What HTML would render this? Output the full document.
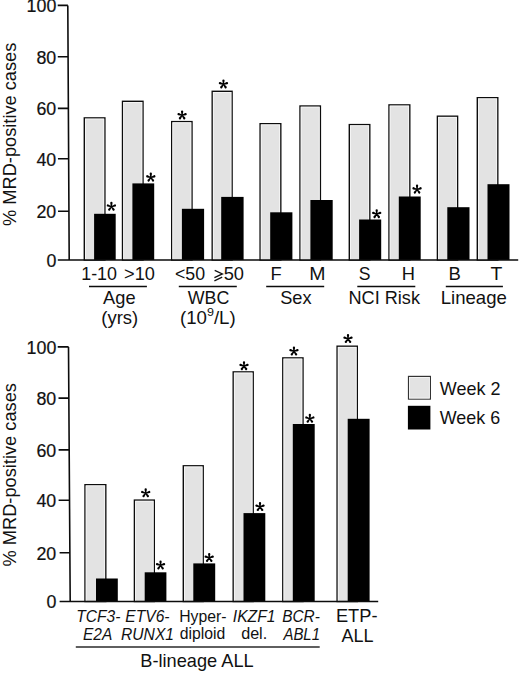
<!DOCTYPE html>
<html><head><meta charset="utf-8"><style>
html,body{margin:0;padding:0;background:#fff;}
svg{display:block;}

text{font-family:"Liberation Sans",sans-serif;fill:#111;}
.tk{font-size:18.4px;stroke:#111;stroke-width:0.2px;}
.yl{font-size:18.24px;}
.xl{font-size:17.5px;}
.sm{font-size:16.4px;}
.it{font-size:16.2px;font-style:italic;}
</style></head><body>
<svg width="520" height="673" viewBox="0 0 520 673">
<rect x="84.30" y="117.90" width="20.60" height="142.10" fill="#e3e3e3" stroke="#0c0c0c" stroke-width="1.4"/><rect x="85.45" y="119.05" width="18.30" height="140.50" fill="none" stroke="#f5f5f5" stroke-width="0.9"/>
<rect x="122.50" y="101.30" width="20.50" height="158.70" fill="#e3e3e3" stroke="#0c0c0c" stroke-width="1.4"/><rect x="123.65" y="102.45" width="18.20" height="157.10" fill="none" stroke="#f5f5f5" stroke-width="0.9"/>
<rect x="171.70" y="121.60" width="20.30" height="138.40" fill="#e3e3e3" stroke="#0c0c0c" stroke-width="1.4"/><rect x="172.85" y="122.75" width="18.00" height="136.80" fill="none" stroke="#f5f5f5" stroke-width="0.9"/>
<rect x="212.20" y="91.30" width="19.90" height="168.70" fill="#e3e3e3" stroke="#0c0c0c" stroke-width="1.4"/><rect x="213.35" y="92.45" width="17.60" height="167.10" fill="none" stroke="#f5f5f5" stroke-width="0.9"/>
<rect x="260.10" y="123.70" width="20.70" height="136.30" fill="#e3e3e3" stroke="#0c0c0c" stroke-width="1.4"/><rect x="261.25" y="124.85" width="18.40" height="134.70" fill="none" stroke="#f5f5f5" stroke-width="0.9"/>
<rect x="300.00" y="106.00" width="20.40" height="154.00" fill="#e3e3e3" stroke="#0c0c0c" stroke-width="1.4"/><rect x="301.15" y="107.15" width="18.10" height="152.40" fill="none" stroke="#f5f5f5" stroke-width="0.9"/>
<rect x="349.30" y="124.60" width="20.50" height="135.40" fill="#e3e3e3" stroke="#0c0c0c" stroke-width="1.4"/><rect x="350.45" y="125.75" width="18.20" height="133.80" fill="none" stroke="#f5f5f5" stroke-width="0.9"/>
<rect x="389.00" y="104.90" width="20.80" height="155.10" fill="#e3e3e3" stroke="#0c0c0c" stroke-width="1.4"/><rect x="390.15" y="106.05" width="18.50" height="153.50" fill="none" stroke="#f5f5f5" stroke-width="0.9"/>
<rect x="437.40" y="116.20" width="20.20" height="143.80" fill="#e3e3e3" stroke="#0c0c0c" stroke-width="1.4"/><rect x="438.55" y="117.35" width="17.90" height="142.20" fill="none" stroke="#f5f5f5" stroke-width="0.9"/>
<rect x="477.30" y="97.70" width="20.50" height="162.30" fill="#e3e3e3" stroke="#0c0c0c" stroke-width="1.4"/><rect x="478.45" y="98.85" width="18.20" height="160.70" fill="none" stroke="#f5f5f5" stroke-width="0.9"/>
<rect x="94.10" y="213.80" width="21.60" height="46.20" fill="#000"/>
<rect x="132.40" y="183.40" width="21.80" height="76.60" fill="#000"/>
<rect x="181.90" y="208.80" width="22.20" height="51.20" fill="#000"/>
<rect x="221.20" y="196.90" width="22.40" height="63.10" fill="#000"/>
<rect x="270.20" y="212.30" width="22.20" height="47.70" fill="#000"/>
<rect x="310.40" y="200.00" width="22.30" height="60.00" fill="#000"/>
<rect x="359.10" y="219.50" width="22.10" height="40.50" fill="#000"/>
<rect x="398.80" y="196.50" width="21.90" height="63.50" fill="#000"/>
<rect x="447.30" y="207.20" width="22.20" height="52.80" fill="#000"/>
<rect x="487.50" y="184.20" width="22.00" height="75.80" fill="#000"/>
<path d="M67.80,5.4L69.20,260.0M57.70,5.4H67.90M57.78,56.7H68.16M57.86,108.4H68.43M57.95,158.7H68.68M58.03,211.2H68.95M58.11,260.0H69.20M57.8,260.0H518.2" stroke="#0c0c0c" stroke-width="1.6" fill="none"/>
<text transform="translate(56.3,12.20) scale(0.97,1)" text-anchor="end" class="tk">100</text>
<text transform="translate(56.3,63.50) scale(0.97,1)" text-anchor="end" class="tk">80</text>
<text transform="translate(56.3,115.20) scale(0.97,1)" text-anchor="end" class="tk">60</text>
<text transform="translate(56.3,165.50) scale(0.97,1)" text-anchor="end" class="tk">40</text>
<text transform="translate(56.3,218.00) scale(0.97,1)" text-anchor="end" class="tk">20</text>
<text transform="translate(56.3,266.80) scale(0.97,1)" text-anchor="end" class="tk">0</text>
<path d="M182.60,115.25L183.25,111.55A1.15,1.15 0 0 0 180.95,111.55L181.60,115.25ZM182.25,114.77L178.94,113.01A1.15,1.15 0 0 0 178.23,115.20L181.95,115.73ZM181.70,114.96L178.99,117.57A1.15,1.15 0 0 0 180.86,118.92L182.50,115.54ZM181.70,115.54L183.34,118.92A1.15,1.15 0 0 0 185.21,117.57L182.50,114.96ZM182.25,115.73L185.97,115.20A1.15,1.15 0 0 0 185.26,113.01L181.95,114.77ZM181.10,115.25a1,1 0 1 0 2,0a1,1 0 1 0 -2,0Z" fill="#000"/>
<path d="M223.95,84.25L224.60,80.55A1.15,1.15 0 0 0 222.30,80.55L222.95,84.25ZM223.60,83.77L220.29,82.01A1.15,1.15 0 0 0 219.58,84.20L223.30,84.73ZM223.05,83.96L220.34,86.57A1.15,1.15 0 0 0 222.21,87.92L223.85,84.54ZM223.05,84.54L224.69,87.92A1.15,1.15 0 0 0 226.56,86.57L223.85,83.96ZM223.60,84.73L227.32,84.20A1.15,1.15 0 0 0 226.61,82.01L223.30,83.77ZM222.45,84.25a1,1 0 1 0 2,0a1,1 0 1 0 -2,0Z" fill="#000"/>
<path d="M111.90,206.65L112.55,202.95A1.15,1.15 0 0 0 110.25,202.95L110.90,206.65ZM111.55,206.17L108.24,204.41A1.15,1.15 0 0 0 107.53,206.60L111.25,207.13ZM111.00,206.36L108.29,208.97A1.15,1.15 0 0 0 110.16,210.32L111.80,206.94ZM111.00,206.94L112.64,210.32A1.15,1.15 0 0 0 114.51,208.97L111.80,206.36ZM111.55,207.13L115.27,206.60A1.15,1.15 0 0 0 114.56,204.41L111.25,206.17ZM110.40,206.65a1,1 0 1 0 2,0a1,1 0 1 0 -2,0Z" fill="#000"/>
<path d="M151.30,177.45L151.95,173.75A1.15,1.15 0 0 0 149.65,173.75L150.30,177.45ZM150.95,176.97L147.64,175.21A1.15,1.15 0 0 0 146.93,177.40L150.65,177.93ZM150.40,177.16L147.69,179.77A1.15,1.15 0 0 0 149.56,181.12L151.20,177.74ZM150.40,177.74L152.04,181.12A1.15,1.15 0 0 0 153.91,179.77L151.20,177.16ZM150.95,177.93L154.67,177.40A1.15,1.15 0 0 0 153.96,175.21L150.65,176.97ZM149.80,177.45a1,1 0 1 0 2,0a1,1 0 1 0 -2,0Z" fill="#000"/>
<path d="M377.20,214.05L377.85,210.35A1.15,1.15 0 0 0 375.55,210.35L376.20,214.05ZM376.85,213.57L373.54,211.81A1.15,1.15 0 0 0 372.83,214.00L376.55,214.53ZM376.30,213.76L373.59,216.37A1.15,1.15 0 0 0 375.46,217.72L377.10,214.34ZM376.30,214.34L377.94,217.72A1.15,1.15 0 0 0 379.81,216.37L377.10,213.76ZM376.85,214.53L380.57,214.00A1.15,1.15 0 0 0 379.86,211.81L376.55,213.57ZM375.70,214.05a1,1 0 1 0 2,0a1,1 0 1 0 -2,0Z" fill="#000"/>
<path d="M417.55,189.45L418.20,185.75A1.15,1.15 0 0 0 415.90,185.75L416.55,189.45ZM417.20,188.97L413.89,187.21A1.15,1.15 0 0 0 413.18,189.40L416.90,189.93ZM416.65,189.16L413.94,191.77A1.15,1.15 0 0 0 415.81,193.12L417.45,189.74ZM416.65,189.74L418.29,193.12A1.15,1.15 0 0 0 420.16,191.77L417.45,189.16ZM417.20,189.93L420.92,189.40A1.15,1.15 0 0 0 420.21,187.21L416.90,188.97ZM416.05,189.45a1,1 0 1 0 2,0a1,1 0 1 0 -2,0Z" fill="#000"/>
<text transform="translate(16.1,134.3) rotate(-90) scale(1,1.05)" text-anchor="middle" class="yl">% MRD-positive cases</text>
<path d="M214.7,270.4L222.4,273.9L214.4,277.6M214.4,280.8L222.2,277.2" stroke="#111" stroke-width="1.3" fill="none"/>
<path d="M89,286.5H146.9M178.8,286.5H236.8M266.2,286.5H324.2M357.3,286.5H415.3M445.8,286.5H502.9" stroke="#0c0c0c" stroke-width="1.4"/>
<rect x="85.00" y="484.70" width="20.80" height="116.80" fill="#e3e3e3" stroke="#0c0c0c" stroke-width="1.4"/><rect x="86.15" y="485.85" width="18.50" height="115.20" fill="none" stroke="#f5f5f5" stroke-width="0.9"/>
<rect x="134.40" y="500.10" width="19.90" height="101.40" fill="#e3e3e3" stroke="#0c0c0c" stroke-width="1.4"/><rect x="135.55" y="501.25" width="17.60" height="99.80" fill="none" stroke="#f5f5f5" stroke-width="0.9"/>
<rect x="183.30" y="465.80" width="19.90" height="135.70" fill="#e3e3e3" stroke="#0c0c0c" stroke-width="1.4"/><rect x="184.45" y="466.95" width="17.60" height="134.10" fill="none" stroke="#f5f5f5" stroke-width="0.9"/>
<rect x="233.20" y="371.90" width="20.00" height="229.60" fill="#e3e3e3" stroke="#0c0c0c" stroke-width="1.4"/><rect x="234.35" y="373.05" width="17.70" height="228.00" fill="none" stroke="#f5f5f5" stroke-width="0.9"/>
<rect x="282.80" y="357.90" width="20.20" height="243.60" fill="#e3e3e3" stroke="#0c0c0c" stroke-width="1.4"/><rect x="283.95" y="359.05" width="17.90" height="242.00" fill="none" stroke="#f5f5f5" stroke-width="0.9"/>
<rect x="337.10" y="346.20" width="20.20" height="255.30" fill="#e3e3e3" stroke="#0c0c0c" stroke-width="1.4"/><rect x="338.25" y="347.35" width="17.90" height="253.70" fill="none" stroke="#f5f5f5" stroke-width="0.9"/>
<rect x="96.00" y="578.50" width="21.80" height="23.00" fill="#000"/>
<rect x="144.70" y="572.30" width="21.70" height="29.20" fill="#000"/>
<rect x="193.30" y="563.40" width="21.90" height="38.10" fill="#000"/>
<rect x="243.50" y="513.10" width="21.80" height="88.40" fill="#000"/>
<rect x="292.80" y="424.00" width="21.90" height="177.50" fill="#000"/>
<rect x="347.70" y="418.80" width="21.90" height="182.70" fill="#000"/>
<path d="M68.50,346.9L70.20,601.5M57.70,346.9H68.60M58.50,398.1H68.92M58.60,449.9H69.25M58.60,500.3H69.56M59.60,552.7H69.89M59.60,601.5H70.20M59.6,601.5H378.2" stroke="#0c0c0c" stroke-width="1.6" fill="none"/>
<text transform="translate(56.3,353.70) scale(0.97,1)" text-anchor="end" class="tk">100</text>
<text transform="translate(56.3,404.90) scale(0.97,1)" text-anchor="end" class="tk">80</text>
<text transform="translate(56.3,456.70) scale(0.97,1)" text-anchor="end" class="tk">60</text>
<text transform="translate(56.3,507.10) scale(0.97,1)" text-anchor="end" class="tk">40</text>
<text transform="translate(56.3,559.50) scale(0.97,1)" text-anchor="end" class="tk">20</text>
<text transform="translate(56.3,608.30) scale(0.97,1)" text-anchor="end" class="tk">0</text>
<path d="M146.20,493.15L146.85,489.45A1.15,1.15 0 0 0 144.55,489.45L145.20,493.15ZM145.85,492.67L142.54,490.91A1.15,1.15 0 0 0 141.83,493.10L145.55,493.63ZM145.30,492.86L142.59,495.47A1.15,1.15 0 0 0 144.46,496.82L146.10,493.44ZM145.30,493.44L146.94,496.82A1.15,1.15 0 0 0 148.81,495.47L146.10,492.86ZM145.85,493.63L149.57,493.10A1.15,1.15 0 0 0 148.86,490.91L145.55,492.67ZM144.70,493.15a1,1 0 1 0 2,0a1,1 0 1 0 -2,0Z" fill="#000"/>
<path d="M244.50,366.05L245.15,362.35A1.15,1.15 0 0 0 242.85,362.35L243.50,366.05ZM244.15,365.57L240.84,363.81A1.15,1.15 0 0 0 240.13,366.00L243.85,366.53ZM243.60,365.76L240.89,368.37A1.15,1.15 0 0 0 242.76,369.72L244.40,366.34ZM243.60,366.34L245.24,369.72A1.15,1.15 0 0 0 247.11,368.37L244.40,365.76ZM244.15,366.53L247.87,366.00A1.15,1.15 0 0 0 247.16,363.81L243.85,365.57ZM243.00,366.05a1,1 0 1 0 2,0a1,1 0 1 0 -2,0Z" fill="#000"/>
<path d="M294.45,351.35L295.10,347.65A1.15,1.15 0 0 0 292.80,347.65L293.45,351.35ZM294.10,350.87L290.79,349.11A1.15,1.15 0 0 0 290.08,351.30L293.80,351.83ZM293.55,351.06L290.84,353.67A1.15,1.15 0 0 0 292.71,355.02L294.35,351.64ZM293.55,351.64L295.19,355.02A1.15,1.15 0 0 0 297.06,353.67L294.35,351.06ZM294.10,351.83L297.82,351.30A1.15,1.15 0 0 0 297.11,349.11L293.80,350.87ZM292.95,351.35a1,1 0 1 0 2,0a1,1 0 1 0 -2,0Z" fill="#000"/>
<path d="M348.50,338.85L349.15,335.15A1.15,1.15 0 0 0 346.85,335.15L347.50,338.85ZM348.15,338.37L344.84,336.61A1.15,1.15 0 0 0 344.13,338.80L347.85,339.33ZM347.60,338.56L344.89,341.17A1.15,1.15 0 0 0 346.76,342.52L348.40,339.14ZM347.60,339.14L349.24,342.52A1.15,1.15 0 0 0 351.11,341.17L348.40,338.56ZM348.15,339.33L351.87,338.80A1.15,1.15 0 0 0 351.16,336.61L347.85,338.37ZM347.00,338.85a1,1 0 1 0 2,0a1,1 0 1 0 -2,0Z" fill="#000"/>
<path d="M161.05,565.35L161.70,561.65A1.15,1.15 0 0 0 159.40,561.65L160.05,565.35ZM160.70,564.87L157.39,563.11A1.15,1.15 0 0 0 156.68,565.30L160.40,565.83ZM160.15,565.06L157.44,567.67A1.15,1.15 0 0 0 159.31,569.02L160.95,565.64ZM160.15,565.64L161.79,569.02A1.15,1.15 0 0 0 163.66,567.67L160.95,565.06ZM160.70,565.83L164.42,565.30A1.15,1.15 0 0 0 163.71,563.11L160.40,564.87ZM159.55,565.35a1,1 0 1 0 2,0a1,1 0 1 0 -2,0Z" fill="#000"/>
<path d="M209.70,557.85L210.35,554.15A1.15,1.15 0 0 0 208.05,554.15L208.70,557.85ZM209.35,557.37L206.04,555.61A1.15,1.15 0 0 0 205.33,557.80L209.05,558.33ZM208.80,557.56L206.09,560.17A1.15,1.15 0 0 0 207.96,561.52L209.60,558.14ZM208.80,558.14L210.44,561.52A1.15,1.15 0 0 0 212.31,560.17L209.60,557.56ZM209.35,558.33L213.07,557.80A1.15,1.15 0 0 0 212.36,555.61L209.05,557.37ZM208.20,557.85a1,1 0 1 0 2,0a1,1 0 1 0 -2,0Z" fill="#000"/>
<path d="M260.50,506.85L261.15,503.15A1.15,1.15 0 0 0 258.85,503.15L259.50,506.85ZM260.15,506.37L256.84,504.61A1.15,1.15 0 0 0 256.13,506.80L259.85,507.33ZM259.60,506.56L256.89,509.17A1.15,1.15 0 0 0 258.76,510.52L260.40,507.14ZM259.60,507.14L261.24,510.52A1.15,1.15 0 0 0 263.11,509.17L260.40,506.56ZM260.15,507.33L263.87,506.80A1.15,1.15 0 0 0 263.16,504.61L259.85,506.37ZM259.00,506.85a1,1 0 1 0 2,0a1,1 0 1 0 -2,0Z" fill="#000"/>
<path d="M310.35,418.65L311.00,414.95A1.15,1.15 0 0 0 308.70,414.95L309.35,418.65ZM310.00,418.17L306.69,416.41A1.15,1.15 0 0 0 305.98,418.60L309.70,419.13ZM309.45,418.36L306.74,420.97A1.15,1.15 0 0 0 308.61,422.32L310.25,418.94ZM309.45,418.94L311.09,422.32A1.15,1.15 0 0 0 312.96,420.97L310.25,418.36ZM310.00,419.13L313.72,418.60A1.15,1.15 0 0 0 313.01,416.41L309.70,418.17ZM308.85,418.65a1,1 0 1 0 2,0a1,1 0 1 0 -2,0Z" fill="#000"/>
<text transform="translate(16.1,474.75) rotate(-90) scale(1,1.05)" text-anchor="middle" class="yl">% MRD-positive cases</text>
<path d="M75.8,647.0H319.7" stroke="#2a2a2a" stroke-width="1.7"/>
<rect x="408.5" y="376.4" width="21.9" height="22.7" fill="#e3e3e3" stroke="#333" stroke-width="1.2"/><rect x="409.55" y="377.45" width="19.8" height="20.6" fill="none" stroke="#f5f5f5" stroke-width="0.9"/>
<rect x="407.9" y="405.8" width="22.5" height="23.7" fill="#000"/>
<text transform="translate(81.22,280.3) scale(1.0212,1)" class="xl">1-10</text>
<text transform="translate(124.02,280.3) scale(1.0407,1)" class="xl">&gt;10</text>
<text transform="translate(174.94,280.3) scale(1.0159,1)" class="xl">&lt;50</text>
<text transform="translate(223.72,280.3) scale(1.0444,1)" class="xl">50</text>
<text transform="translate(270.43,280.3) scale(1.0471,1)" class="xl">F</text>
<text transform="translate(309.23,280.3) scale(1.1149,1)" class="xl">M</text>
<text transform="translate(358.75,280.3) scale(1.0049,1)" class="xl">S</text>
<text transform="translate(401.63,280.3) scale(1.0462,1)" class="xl">H</text>
<text transform="translate(448.41,280.3) scale(1.0595,1)" class="xl">B</text>
<text transform="translate(490.45,280.3) scale(1.1077,1)" class="xl">T</text>
<text transform="translate(103.10,303.5) scale(1.0413,1)" class="xl">Age</text>
<text transform="translate(187.70,303.5) scale(1.0200,1)" class="xl">WBC</text>
<text transform="translate(280.22,303.5) scale(1.0414,1)" class="xl">Sex</text>
<text transform="translate(348.44,303.5) scale(1.0370,1)" class="xl">NCI Risk</text>
<text transform="translate(440.71,303.5) scale(1.0617,1)" class="xl">Lineage</text>
<text transform="translate(101.24,323.8) scale(1.0576,1)" class="xl">(yrs)</text>
<text transform="translate(180.04,324.0) scale(1.0647,1)" class="xl">(10<tspan dy="-8.3" font-size="11.8">9</tspan><tspan dy="8.3">/L)</tspan></text>
<text transform="translate(76.26,621.9) scale(0.9614,1)" class="it">TCF3-</text>
<text transform="translate(125.32,621.9) scale(0.9644,1)" class="it">ETV6-</text>
<text transform="translate(179.20,622.0) scale(0.9608,1)" class="sm">Hyper-</text>
<text transform="translate(232.77,621.9) scale(0.9690,1)" class="it">IKZF1</text>
<text transform="translate(282.22,621.9) scale(0.9523,1)" class="it">BCR-</text>
<text transform="translate(335.93,621.7) scale(1.0437,1)" class="xl">ETP-</text>
<text transform="translate(83.02,639.6) scale(0.9573,1)" class="it">E2A</text>
<text transform="translate(121.02,639.6) scale(0.9660,1)" class="it">RUNX1</text>
<text transform="translate(179.68,639.3) scale(0.9626,1)" class="sm">diploid</text>
<text transform="translate(241.16,639.3) scale(0.9856,1)" class="sm">del.</text>
<text transform="translate(283.39,639.6) scale(0.9256,1)" class="it">ABL1</text>
<text transform="translate(341.40,642.1) scale(1.0295,1)" class="xl">ALL</text>
<text transform="translate(140.24,666.9) scale(1.0411,1)" class="xl">B-lineage ALL</text>
<text transform="translate(439.80,394.8) scale(1.0276,1)" class="xl">Week 2</text>
<text transform="translate(439.80,423.9) scale(1.0232,1)" class="xl">Week 6</text>
</svg>
</body></html>
